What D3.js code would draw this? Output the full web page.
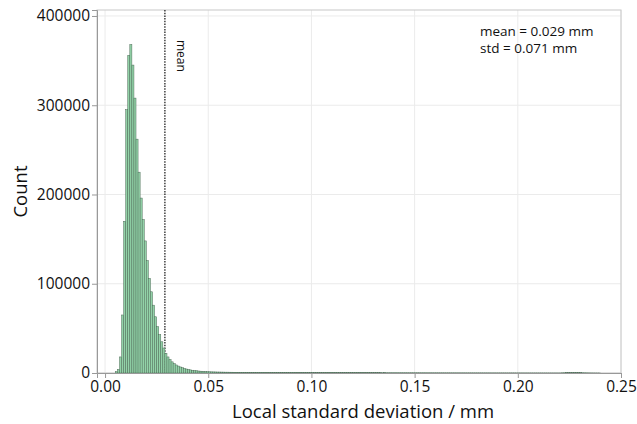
<!DOCTYPE html>
<html>
<head>
<meta charset="utf-8">
<script src="https://cdn.jsdelivr.net/npm/d3@7"></script>
<style>
  body { margin: 0; background: #fff; }
  svg text { font-family: "Open Sans", "Noto Sans", sans-serif; fill: #111; }
</style>
</head>
<body>
<div id="chart"></div>
<script>
// Histogram bins: width 0.001 mm, first bin starts at 0.005 mm
const binStart = 0.005;
const binWidth = 0.001;

// 0.005 .. 0.050
const peakCounts = [
  1500, 4000, 18000, 65000, 170000, 295000, 356000, 368000, 345000, 308000,
  262000, 225000, 196000, 172000, 148000, 126000, 106000, 91000, 76000, 63000,
  52000, 43000, 35000, 28000, 22000, 18000, 15000, 12500, 10500, 9000,
  7800, 6800, 5900, 5100, 4500, 4000, 3500, 3100, 2800, 2500,
  2200, 2000, 1800, 1600, 1500, 1400
];

// 0.051 .. 0.239
const tailCounts = [
  1300, 1240, 1190, 1110, 1090, 1020, 1000, 940, 930, 880,
  870, 830, 820, 780, 780, 740, 740, 710, 700, 680,
  680, 650, 660, 630, 620, 610, 600, 580, 590, 570,
  570, 550, 560, 540, 540, 520, 530, 510, 520, 500,
  500, 490, 500, 480, 480, 460, 470, 450, 460, 440,
  450, 430, 440, 420, 430, 410, 410, 400, 410, 390,
  400, 380, 390, 370, 380, 360, 370, 350, 360, 340,
  350, 330, 340, 320, 330, 320, 310, 320, 300, 310,
  300, 290, 300, 280, 290, 280, 270, 280, 260, 270,
  260, 250, 260, 240, 250, 240, 230, 240, 230, 220,
  230, 220, 210, 220, 210, 200, 210, 200, 190, 200,
  190, 180, 190, 180, 170, 180, 170, 160, 170, 160,
  160, 150, 160, 150, 140, 150, 140, 140, 130, 140,
  130, 130, 120, 130, 120, 120, 110, 120, 110, 110,
  100, 110, 100, 100, 90, 100, 90, 90, 80, 90,
  80, 80, 70, 80, 70, 70, 60, 70, 60, 60,
  60, 50, 60, 50, 50, 50, 40, 50, 40, 40,
  200, 250, 300, 320, 300, 320, 360, 400, 350, 300,
  250, 200, 150, 100, 60, 40, 20, 10, 10
];

const xTicks = [0, 0.05, 0.10, 0.15, 0.20, 0.25];
const yTicks = [0, 100000, 200000, 300000, 400000];
const meanValue = 0.029;
const statLines = ["mean = 0.029 mm", "std = 0.071 mm"];

const counts = peakCounts.concat(tailCounts);
const bins = counts.map((c, i) => ({x0: binStart + i * binWidth, x1: binStart + (i + 1) * binWidth, count: c}));

const W = 637, H = 424;
const margin = {top: 10, right: 16, bottom: 51, left: 97};
const width = W - margin.left - margin.right;
const height = H - margin.top - margin.bottom;

const x = d3.scaleLinear().domain([-0.0039, 0.25]).range([0, width]);
const y = d3.scaleLinear().domain([0, 406700]).range([height, 0]);

const svg = d3.select("#chart").append("svg")
  .attr("width", W).attr("height", H);

const g = svg.append("g")
  .attr("transform", `translate(${margin.left},${margin.top})`);

// Grid
g.append("g").selectAll("line").data(xTicks).join("line")
  .attr("x1", d => x(d)).attr("x2", d => x(d))
  .attr("y1", 0).attr("y2", height)
  .attr("stroke", "#ebebeb").attr("stroke-width", 1);
g.append("g").selectAll("line").data(yTicks).join("line")
  .attr("x1", 0).attr("x2", width)
  .attr("y1", d => y(d)).attr("y2", d => y(d))
  .attr("stroke", "#ebebeb").attr("stroke-width", 1);

// Frame
g.append("rect")
  .attr("x", 0).attr("y", 0).attr("width", width).attr("height", height)
  .attr("fill", "none").attr("stroke", "#c8c8c8");

// Mean line (drawn under the bars)
g.append("line")
  .attr("x1", x(meanValue)).attr("x2", x(meanValue))
  .attr("y1", 0).attr("y2", height)
  .attr("stroke", "#222").attr("stroke-width", 1.3)
  .attr("stroke-dasharray", "1.5,1.2");

// Bars
g.append("g").selectAll("rect").data(bins).join("rect")
  .attr("x", d => x(d.x0))
  .attr("width", d => x(d.x1) - x(d.x0))
  .attr("y", d => y(d.count))
  .attr("height", d => height - y(d.count))
  .attr("fill", "#92d3a8")
  .attr("stroke", "#4d6b57")
  .attr("stroke-width", 0.5);

// Axes
const xAxis = g.append("g")
  .attr("transform", `translate(0,${height})`)
  .call(d3.axisBottom(x).tickValues(xTicks).tickFormat(d3.format(".2f")).tickSize(5).tickPadding(3));
const yAxis = g.append("g")
  .call(d3.axisLeft(y).tickValues(yTicks).tickFormat(d3.format("d")).tickSize(5).tickPadding(2));
[xAxis, yAxis].forEach(a => {
  a.select(".domain").attr("stroke", "#999");
  a.selectAll(".tick line").attr("stroke", "#999");
  a.selectAll(".tick text").style("font-size", "15.5px").attr("fill", "#111");
});

// Axis titles
svg.append("text")
  .attr("x", margin.left + x(0.125)).attr("y", 418)
  .attr("text-anchor", "middle").style("font-size", "18.5px")
  .text("Local standard deviation / mm");
svg.append("text")
  .attr("transform", `translate(27,${margin.top + height / 2}) rotate(-90)`)
  .attr("text-anchor", "middle").style("font-size", "18.5px")
  .text("Count");

// Mean label
g.append("text")
  .attr("transform", `translate(${x(meanValue) + 12},${30}) rotate(90)`)
  .style("font-size", "12px")
  .text("mean");

// Stats annotation
g.append("g").selectAll("text").data(statLines).join("text")
  .attr("x", 383).attr("y", (d, i) => 26 + i * 17)
  .style("font-size", "13.5px")
  .text(d => d);
</script>
</body>
</html>
